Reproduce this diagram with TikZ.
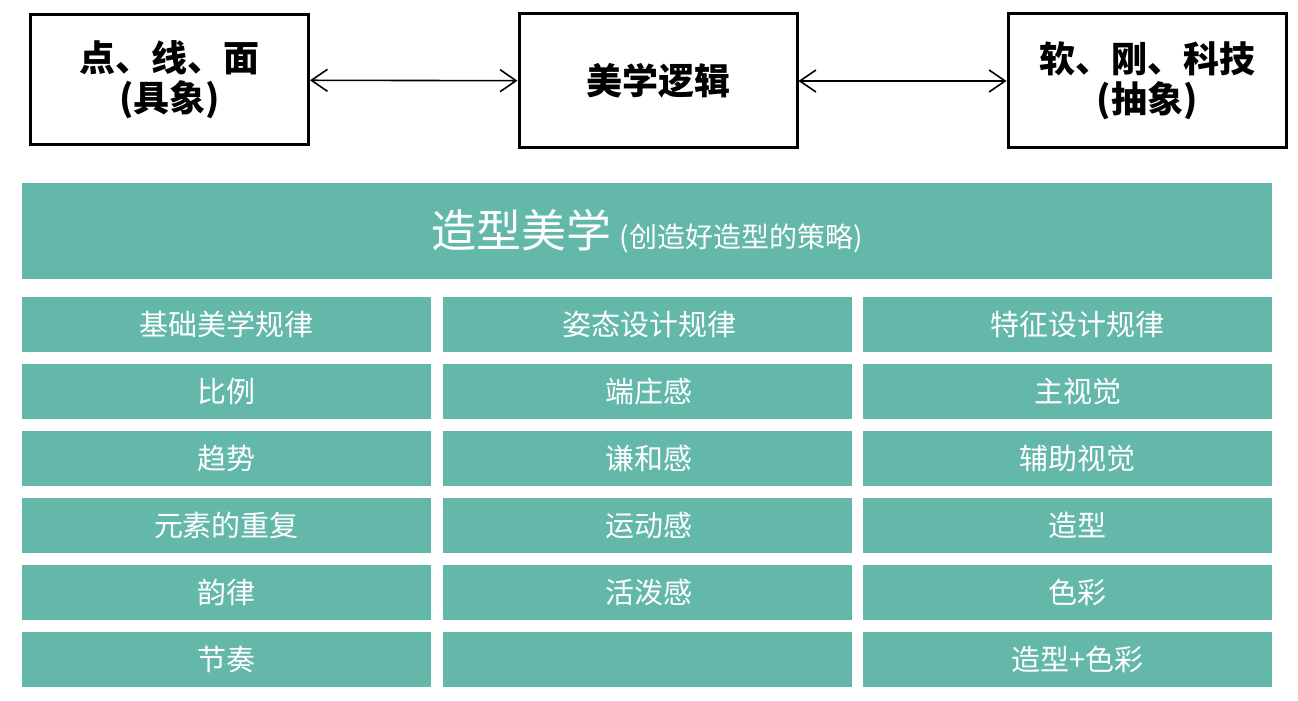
\documentclass[tikz,border=0pt]{standalone}
\usepackage{fontspec}
\setmainfont{Noto Sans CJK SC}
\usetikzlibrary{arrows.meta}
\definecolor{zxteal}{HTML}{63B8AA}

\tikzset{
	topbox/.style={draw, line width=1.5pt, minimum width=139pt, minimum height=67pt, inner sep=0pt, align=center, font=\bfseries\fontsize{18}{20}\selectfont},
	cell/.style={fill=zxteal, text=white, minimum width=204.5pt, minimum height=27.5pt, inner sep=0pt, font=\fontsize{14.5}{16}\selectfont},
	link/.style={{Straight Barb[length=8pt,width=11pt]}-{Straight Barb[length=8pt,width=11pt]}, line width=0.8pt},
}

\begin{document}
\begin{tikzpicture}[x=0.5pt, y=-0.5pt]
		
		\useasboundingbox (0,0) rectangle (1298,701);
		
		% the three ideas on top
		\node[topbox, minimum height=65pt] (point) at (169.5,80) {点、线、面\\(具象)};
		\node[topbox] (logic) at (658,81) {美学逻辑};
		\node[topbox] (tech) at (1147,81) {软、刚、科技\\(抽象)};
		\draw[link] (point) -- (logic);
		\draw[link] (logic) -- (tech);
		
		% heading bar
		\node[fill=zxteal, text=white, minimum width=625pt, minimum height=48pt, inner sep=0pt] (head) at (647,231)
			{{\fontsize{22.5}{24}\selectfont 造型美学}\hspace{4pt}{\fontsize{14}{16}\selectfont (创造好造型的策略)}};
		
		% three columns of rules
		\foreach \names/\shift [count=\c] in {{基础美学规律,比例,趋势,元素的重复,韵律,节奏}/0pt,
				{姿态设计规律,端庄感,谦和感,运动感,活泼感,{}}/2pt,
				{特征设计规律,主视觉,辅助视觉,造型,色彩,造型+色彩}/10pt}{
			\foreach \txt [count=\r] in \names {
				\node[cell] (c\c-\r) at ({226.5+420.5*(\c-1)},{324.5+67*(\r-1)}) {\hspace*{\shift}\txt};
			}
		}
		
\end{tikzpicture}
\end{document}
